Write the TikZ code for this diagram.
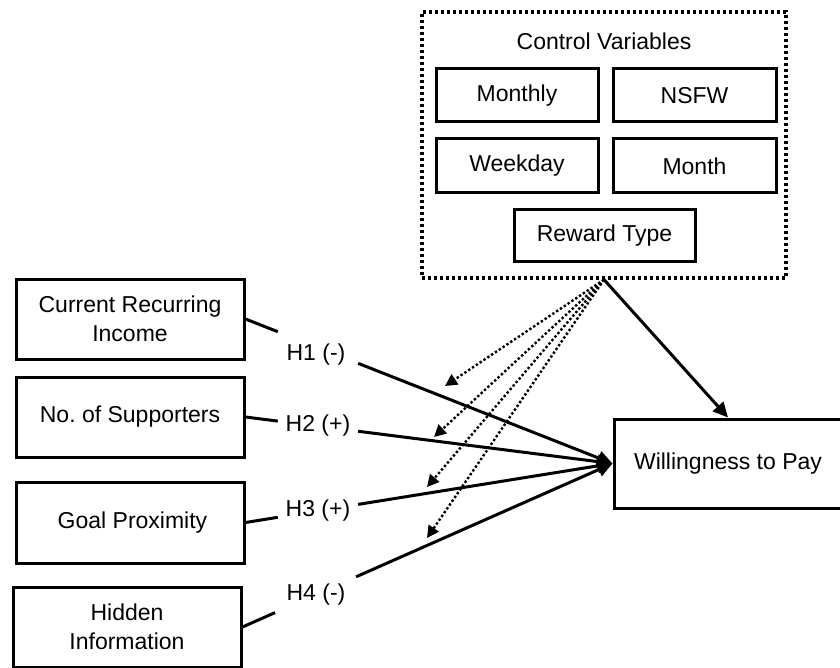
\documentclass[tikz,border=0pt]{standalone}
\usepackage{fontspec}
\setmainfont{Liberation Sans}
\usetikzlibrary{arrows.meta,calc}
\frenchspacing
\begin{document}
\begin{tikzpicture}[x=1pt,y=-1pt,
  every node/.style={font=\fontsize{23}{29}\selectfont, text=black},
  varbox/.style={draw, line width=3pt, rectangle, align=center, inner sep=0pt},
  hlabel/.style={inner sep=0pt},
  link/.style={line width=3pt},
  arr/.style={line width=3pt, -{Triangle[length=15pt,width=14pt]}},
  darr/.style={line width=2.4pt, dash pattern=on 2.4pt off 2.2pt, -{Triangle[length=12pt,width=12pt]}},
  ctrlbox/.style={draw, line width=3.2pt, dash pattern=on 3pt off 3pt, rectangle, inner sep=0pt}
]
\useasboundingbox (0,0) rectangle (840,668);
% control variables
\node[ctrlbox, minimum width=364pt, minimum height=266pt] (ctrl) at (604,145) {};
\node (ctitle) at (604,41) {Control Variables};
\node[varbox, minimum width=162pt, minimum height=53pt] (monthly) at (517,95.5) {Monthly};
\node[varbox, minimum width=163pt, minimum height=53pt] (nsfw) at (694.5,95.5) {NSFW};
\node[varbox, minimum width=162pt, minimum height=54pt] (weekday) at (517,166) {Weekday};
\node[varbox, minimum width=163pt, minimum height=54pt] (month) at (694.5,166) {Month};
\node[varbox, minimum width=181pt, minimum height=52pt] (reward) at (604.5,236) {Reward Type};
% predictors
\node[varbox, minimum width=228pt, minimum height=80pt] (cri) at (130,319) {Current Recurring\\Income};
\node[varbox, minimum width=228pt, minimum height=80pt] (nos) at (130,417) {No. of Supporters};
\node[varbox, minimum width=228pt, minimum height=81pt] (gp) at (130,522.5) {\hspace*{5pt}Goal Proximity};
\node[varbox, minimum width=228pt, minimum height=80pt] (hi) at (127,627) {Hidden\\Information};
% outcome
\node[varbox, minimum width=228pt, minimum height=89pt] (wtp) at (728,463.5) {Willingness to Pay};
% hypothesis labels
\node[hlabel] (h1) at (316,355) {H1 (-)};
\node[hlabel] (h2) at (318,426) {H2 (+)};
\node[hlabel] (h3) at (318,511) {H3 (+)};
\node[hlabel] (h4) at (316,595) {H4 (-)};
% hypothesis paths
\foreach \s in {cri,nos,gp,hi}{
  \draw[link] (\s.east) -- ($(\s.east)!0.088!(wtp.west)$);
  \draw[arr] ($(\s.east)!0.307!(wtp.west)$) -- (wtp.west);
}
% control effects
\coordinate (d1) at (445,386);
\coordinate (d2) at (434,437);
\coordinate (d3) at (427,487);
\coordinate (d4) at (427,538);
\foreach \d in {d1,d2,d3,d4}{
  \draw[darr] (ctrl.south) -- (\d);
}
\draw[arr] (ctrl.south) -- (wtp.north);
\end{tikzpicture}
\end{document}
